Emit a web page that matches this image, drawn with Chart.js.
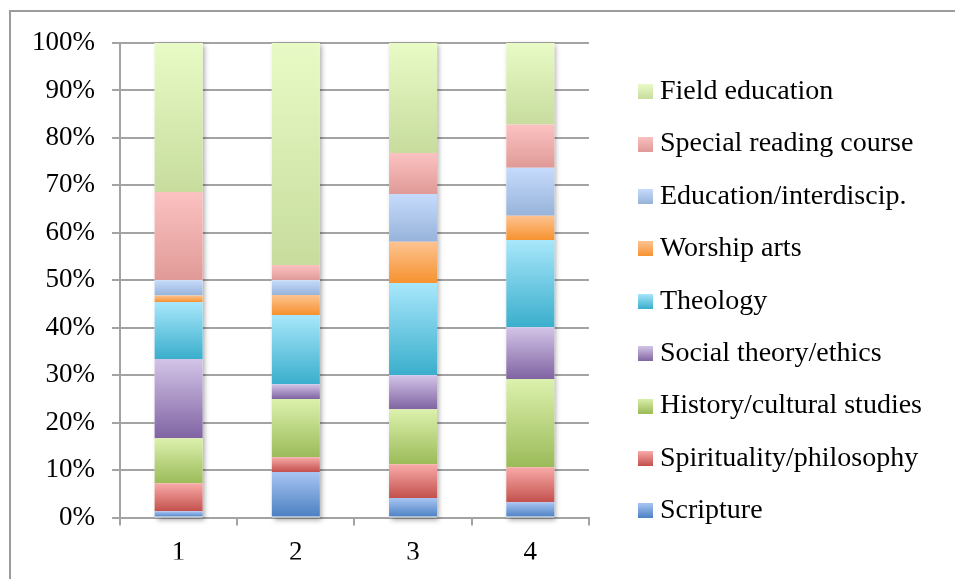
<!DOCTYPE html>
<html>
<head>
<meta charset="utf-8">
<script src="https://cdn.jsdelivr.net/npm/chart.js@4"></script>
<style>
  html, body { margin: 0; padding: 0; background: #fff; overflow: hidden; }
  #frame { position: absolute; left: 9px; top: 10px; width: 1000px; height: 1000px;
           border-left: 2px solid #9c9c9c; border-top: 2px solid #9c9c9c; box-sizing: border-box; }
  #wrap { position: absolute; left: 0; top: 0; width: 955px; height: 579px; }
</style>
</head>
<body>
<div id="frame"></div>
<div id="wrap"><canvas id="c" width="955" height="579"></canvas></div>
<script>
// ---- data (percent of each column) ----
const categories = ['1', '2', '3', '4'];
const seriesNames = ['Scripture', 'Spirituality/philosophy', 'History/cultural studies',
  'Social theory/ethics', 'Theology', 'Worship arts', 'Education/interdiscip.',
  'Special reading course', 'Field education'];
const scripture        = [1.3, 9.6, 4.1, 3.2];
const spirituality     = [5.9, 3.1, 7.1, 7.4];
const history          = [9.5, 12.3, 11.6, 18.6];
const socialTheory     = [16.7, 3.1, 7.2, 10.9];
const theology         = [12.0, 14.6, 19.4, 18.4];
const worshipArts      = [1.4, 4.2, 8.7, 5.1];
const education        = [3.2, 3.1, 10.1, 10.1];
const specialReading   = [18.6, 3.2, 8.6, 9.1];
const fieldEducation   = [31.4, 46.8, 23.2, 17.2];
const yTicks = [0, 10, 20, 30, 40, 50, 60, 70, 80, 90, 100];

const seriesValues = [scripture, spirituality, history, socialTheory, theology,
  worshipArts, education, specialReading, fieldEducation];

// gradient colours: [top, bottom]
const palette = [
  ['#a8c5f3', '#4a7fc1'],
  ['#f8aba9', '#c3504c'],
  ['#dcf1ad', '#9bbb59'],
  ['#d3c4e8', '#8064a2'],
  ['#a8e7fb', '#3aaecc'],
  ['#fdc391', '#f6922f'],
  ['#c6dbfc', '#97b3da'],
  ['#fbc2c1', '#e09a97'],
  ['#e8fbc6', '#c7dc9d']
];
const legendColors = ['#78a2da', '#de7d7a', '#bcd784', '#a995c6', '#72cbe5', '#faab60', '#afc8eb', '#eeaeac', '#d8ecb2'];

function gradientFor(ctx) {
  const chart = ctx.chart;
  const di = ctx.datasetIndex;
  if (!chart.chartArea || ctx.type !== 'data') return legendColors[di];
  const i = ctx.dataIndex;
  const y = chart.scales.y;
  let cum = 0;
  for (let k = 0; k < di; k++) cum += seriesValues[k][i];
  const top = y.getPixelForValue(cum + seriesValues[di][i]);
  const bottom = y.getPixelForValue(cum);
  const g = chart.ctx.createLinearGradient(0, top, 0, bottom);
  g.addColorStop(0, palette[di][0]);
  g.addColorStop(1, palette[di][1]);
  return g;
}

// small gradient swatches for the legend
const swatches = palette.map(([c1, c2]) => {
  const cv = document.createElement('canvas');
  cv.width = 15; cv.height = 15;
  const cx = cv.getContext('2d');
  const g = cx.createLinearGradient(0, 0, 0, 15);
  g.addColorStop(0, c1);
  g.addColorStop(1, c2);
  cx.fillStyle = g;
  cx.fillRect(0, 0, 15, 15);
  return cv;
});

const datasets = seriesNames.map((name, k) => ({
  label: name,
  data: seriesValues[k],
  backgroundColor: gradientFor,
  borderWidth: 0,
  categoryPercentage: 1.0,
  barPercentage: 0.41
}));

// soft shadow behind each whole column
const shadowPlugin = {
  id: 'colShadow',
  beforeDatasetsDraw(chart) {
    const meta = chart.getDatasetMeta(0);
    const y = chart.scales.y;
    const ctx = chart.ctx;
    ctx.save();
    ctx.shadowColor = 'rgba(0,0,0,0.35)';
    ctx.shadowBlur = 5;
    ctx.shadowOffsetX = 2;
    ctx.shadowOffsetY = 2;
    ctx.fillStyle = '#ffffff';
    meta.data.forEach(el => {
      const top = y.getPixelForValue(100);
      const bottom = y.getPixelForValue(0);
      ctx.fillRect(el.x - el.width / 2, top, el.width, bottom - top);
    });
    ctx.restore();
  }
};

const gridColor = '#a3a3a3';
const serif = "'Liberation Serif', 'Times New Roman', serif";

new Chart(document.getElementById('c'), {
  type: 'bar',
  data: { labels: categories, datasets },
  plugins: [shadowPlugin],
  options: {
    responsive: false,
    animation: false,
    layout: { padding: { left: 20, top: 43, bottom: 19.5, right: 23 } },
    plugins: {
      tooltip: { enabled: false },
      legend: {
        position: 'right',
        reverse: true,
        maxWidth: 420,
        labels: {
          usePointStyle: true,
          pointStyleWidth: 1,
          boxWidth: 15,
          boxHeight: 15,
          padding: 24.4,
          color: '#000',
          font: { family: serif, size: 28 },
          generateLabels(chart) {
            const items = Chart.defaults.plugins.legend.labels.generateLabels(chart);
            items.forEach(it => { it.pointStyle = swatches[it.datasetIndex]; it.lineWidth = 0; });
            return items;
          }
        }
      }
    },
    scales: {
      x: {
        stacked: true,
        grid: { display: true, drawOnChartArea: false, drawTicks: true, tickLength: 8, color: gridColor, lineWidth: 2, offset: true },
        border: { display: true, color: gridColor, width: 2 },
        ticks: { color: '#000', padding: 11, font: { family: serif, size: 27 } },
        afterFit(s) { s.height = 42; }
      },
      y: {
        stacked: true,
        min: 0, max: 100,
        afterBuildTicks(s) { s.ticks = yTicks.map(v => ({ value: v })); },
        grid: { color: gridColor, lineWidth: 2, tickLength: 8 },
        border: { display: true, color: gridColor, width: 2 },
        ticks: { color: '#000', padding: 17, font: { family: serif, size: 27 },
                 callback: v => v + '%' },
        afterFit(s) { s.width = 100; }
      },
      gap: {
        type: 'linear',
        position: 'right',
        display: true,
        grid: { display: false },
        border: { display: false },
        ticks: { display: false },
        afterFit(s) { s.width = 31.6; }
      }
    }
  }
});
</script>
</body>
</html>
